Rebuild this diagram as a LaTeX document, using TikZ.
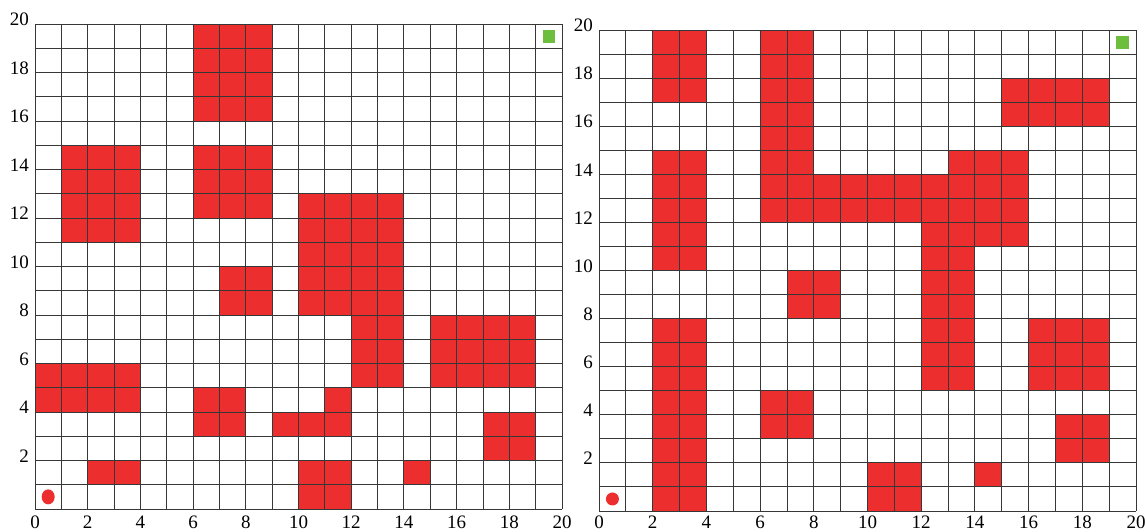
\documentclass[tikz,border=0pt]{standalone}
\usepackage{fontspec}
\setmainfont{Liberation Serif}
\definecolor{obst}{RGB}{236,47,46}
\definecolor{goalc}{RGB}{108,190,60}
\definecolor{gridc}{RGB}{55,55,55}
\begin{document}
\begin{tikzpicture}[x=1pt,y=1pt,
  gridline/.style={draw=gridc,line width=0.9pt},
  labfont/.style={inner sep=0pt,font=\fontsize{19}{20}\selectfont},
  ylab/.style={labfont,anchor=east,xshift=-6pt,yshift=4.5pt},
  xlab/.style={labfont,anchor=north,yshift=-6.5pt},
  goalbox/.style={fill=goalc,inner sep=0pt,minimum width=12.5pt,minimum height=13pt}]
\useasboundingbox (0,0) rectangle (1145,532);
% left grid
\begin{scope}[shift={(35,23)},x=26.35pt,y=24.25pt]
  \foreach \a/\b/\c/\d in {6/16/9/20, 6/12/9/15, 1/11/4/15, 10/8/14/13, 12/5/14/8,
      7/8/9/10, 0/4/4/6, 6/3/8/5, 9/3/12/4, 11/4/12/5, 2/1/4/2, 10/0/12/2,
      14/1/15/2, 15/5/19/8, 17/2/19/4}
    \fill[obst] (\a,\b) rectangle (\c,\d);
  \draw[gridline] (0,0) grid[step=1] (20,20);
  \fill[obst] (0.5,0.5) ellipse [x radius=6.5pt, y radius=7.5pt];
  \node[goalbox] (Lgoal) at (19.5,19.5) {};
  \foreach \k in {2,4,...,20} \node[ylab] (Ly\k) at (0,\k) {\k};
  \foreach \k in {0,2,...,20} \node[xlab] (Lx\k) at (\k,0) {\k};
\end{scope}
% right grid
\begin{scope}[shift={(599,21)},x=26.85pt,y=24.05pt]
  \foreach \a/\b/\c/\d in {2/17/4/20, 2/10/4/15, 2/0/4/8, 6/12/8/20, 8/12/16/14,
      13/14/16/15, 12/11/16/12, 12/5/14/11, 15/16/19/18, 7/8/9/10, 6/3/8/5,
      10/0/12/2, 14/1/15/2, 16/5/19/8, 17/2/19/4}
    \fill[obst] (\a,\b) rectangle (\c,\d);
  \draw[gridline] (0,0) grid[step=1] (20,20);
  \fill[obst] (0.5,0.5) circle [radius=6.5pt];
  \node[goalbox] (Rgoal) at (19.5,19.5) {};
  \foreach \k in {2,4,...,20} \node[ylab] (Ry\k) at (0,\k) {\k};
  \foreach \k in {0,2,...,20} \node[xlab,yshift=1.5pt] (Rx\k) at (\k,0) {\k};
\end{scope}
\end{tikzpicture}
\end{document}
